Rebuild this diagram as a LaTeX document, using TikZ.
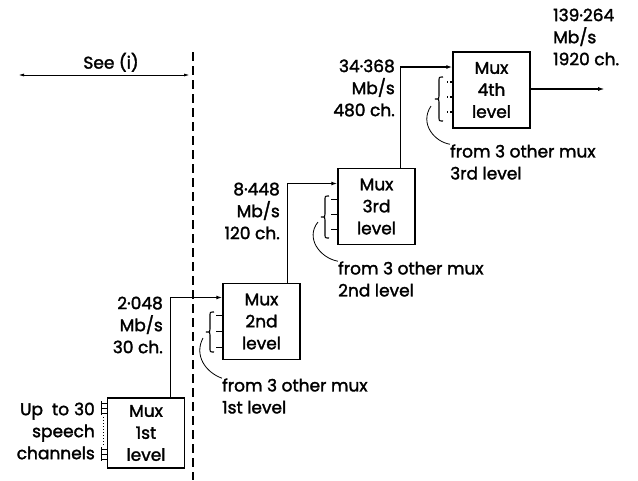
\documentclass[tikz,border=0pt]{standalone}
\usepackage{fontspec}
\setmainfont{Poppins}[FakeBold=1.8]
\usetikzlibrary{arrows.meta}
\newcommand{\drawlbrace}[3]{% x of ends, top y, bottom y
  \pgfmathsetmacro{\ym}{(#2+#3)/2}
  \draw[line width=1.1pt] (#1,#2) .. controls (#1-4,#2) .. (#1-4,#2+4) -- (#1-4,\ym-3)
     .. controls (#1-4,\ym) .. (#1-8,\ym) .. controls (#1-4,\ym) .. (#1-4,\ym+3)
     -- (#1-4,#3-4) .. controls (#1-4,#3) .. (#1,#3);}
\begin{document}
\begin{tikzpicture}[x=1pt,y=-1pt,
  every node/.style={font=\fontsize{17}{22}\selectfont, inner sep=0pt},
  muxbox/.style={draw, line width=1.4pt, minimum width=77pt, minimum height=76pt, align=center},
  wire/.style={line width=1.4pt},
  lbl/.style={align=right, anchor=east},
  thin/.style={line width=0.8pt}]
\useasboundingbox (0,0) rectangle (638,480);
% boxes
\node[muxbox, minimum height=70pt] (m1) at (146,433) {Mux\\1st\\level};
\node[muxbox] (m2) at (261.5,321.5) {Mux\\2nd\\level};
\node[muxbox] (m3) at (376.5,206.5) {Mux\\3rd\\level};
\node[muxbox] (m4) at (491.5,90) {Mux\\4th\\level};
% connections
\draw[wire,-{Latex[length=6pt,width=4pt]}] ([xshift=-15pt]m1.north east) |- ([yshift=24pt]m2.west);
\draw[wire,-{Latex[length=6pt,width=4pt]}] ([xshift=-13pt]m2.north east) |- ([yshift=23pt]m3.west);
\draw[wire,-{Latex[length=6pt,width=4pt]}] ([xshift=-15pt]m3.north east) |- ([yshift=23pt]m4.west);
\coordinate (out) at (605,89);
\draw[wire,-{Latex[length=7pt,width=4pt]}] (m4.east |- out) -- (out);
% dashed separator
\coordinate (dtop) at (193,52);
\coordinate (dbot) at (193,480);
\draw[line width=1.1pt, dash pattern=on 9pt off 5pt] (dtop) -- (dbot);
% See (i)
\coordinate (sl) at (18,75);
\coordinate (sr) at (190,75);
\draw[line width=1pt,{Latex[length=6pt,width=3pt]}-{Latex[length=6pt,width=3pt]}] (sl) -- (sr);
\node[anchor=south] (see) at (111,72) {See (i)};
% rate labels
\node[lbl] (r1) at (163,325) {2·048\\Mb/s\\30 ch.};
\node[lbl] (r2) at (280,211) {8·448\\Mb/s\\120 ch.};
\node[lbl] (r3) at (395,88) {34·368\\Mb/s\\480 ch.};
\node[align=left, anchor=west] (r4) at (553,37) {139·264\\Mb/s\\1920 ch.};
% input of mux 1
\node[lbl] (inp) at (95,431) {Up\hspace{9pt}to\hspace{5pt}30\\speech\\channels};
\foreach \yy in {403,408,413,449,454,459}{
  \draw[line width=0.9pt] (101,\yy) -- (m1.west |- 0,\yy);
}
\draw[line width=0.9pt] (101,401) -- (101,415);
\draw[line width=0.9pt] (101,447) -- (101,461);
\draw[line width=1pt, dotted] (103,417) -- (103,445);
% braces and stubs
\drawlbrace{214}{312}{352}
\foreach \yy in {315,331,347}{\draw[line width=0.9pt] (216,\yy) -- (m2.west |- 0,\yy);}
\drawlbrace{329}{196}{238}
\foreach \yy in {199,214,229}{\draw[line width=0.9pt] (331,\yy) -- (m3.west |- 0,\yy);}
\drawlbrace{443}{77}{121}
\foreach \yy in {82,97,112}{\draw[line width=1.4pt, dotted] (447,\yy) -- (m4.west |- 0,\yy);}
% from-other labels
\node[align=left, anchor=west] (f2) at (222,396) {from 3 other mux\\1st level};
\node[align=left, anchor=west] (f3) at (338,279) {from 3 other mux\\2nd level};
\node[align=left, anchor=west] (f4) at (450,162) {from 3 other mux\\3rd level};
\draw[thin] (203,338) .. controls (194,355) and (205,372) .. (f2.north west);
\draw[thin] (318,222) .. controls (305,238) and (320,258) .. (f3.north west);
\draw[thin] (431,106) .. controls (419,124) and (435,142) .. (f4.north west);
\end{tikzpicture}
\end{document}
